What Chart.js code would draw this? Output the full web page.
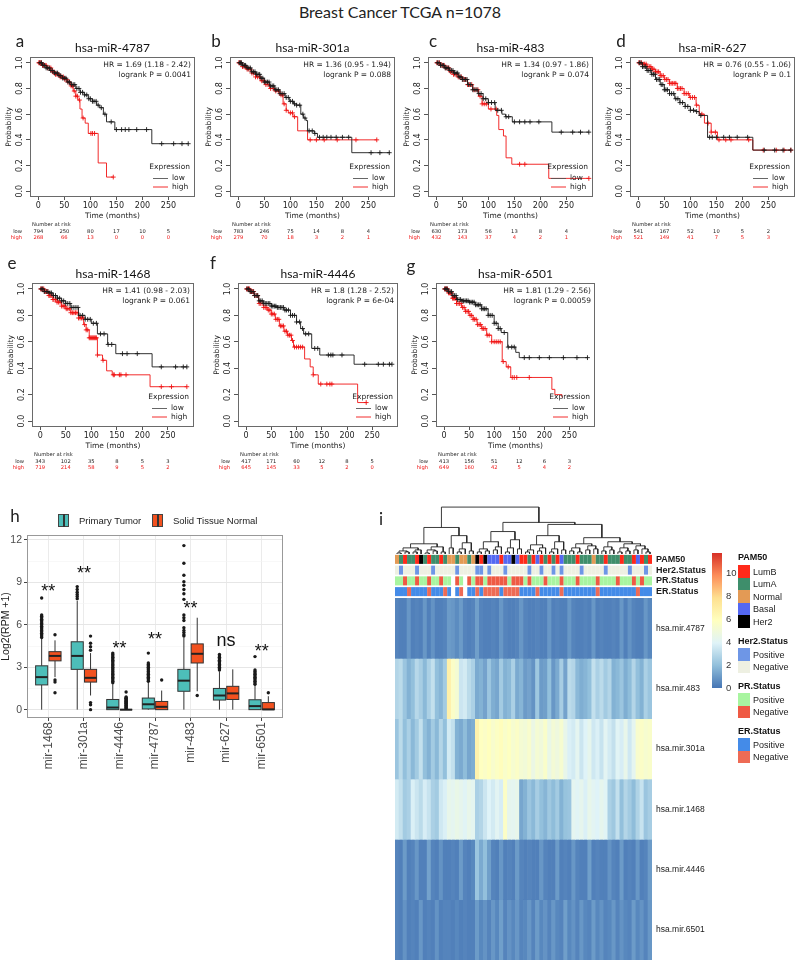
<!DOCTYPE html>
<html><head><meta charset="utf-8">
<script src="https://cdn.jsdelivr.net/npm/chart.js@4.4.0/dist/chart.umd.min.js"></script>
<style>
body{margin:0;background:#fff;width:800px;height:964px;position:relative;overflow:hidden;font-family:Lato,sans-serif;color:#222}
canvas{position:absolute}
.t{position:absolute;white-space:nowrap;line-height:1;transform:translate(0,-50%)}
.c{transform:translate(-50%,-50%)}
.sw{position:absolute;width:12px;height:12.5px}
</style></head><body>
<script>
// ---------------- KM data ----------------
const riskTimes = [0,50,100,150,200,250];
// a hsa-miR-4787
const a_low_t = [0,8,15,22,30,38,46,55,63,72,80,88,96,104,112,118,125,131,147,218,288];
const a_low_s = [1,0.98,0.96,0.94,0.92,0.9,0.88,0.85,0.83,0.8,0.77,0.75,0.72,0.7,0.67,0.65,0.6,0.54,0.48,0.37,0.37];
const a_high_t = [0,8,16,25,33,42,50,56,62,67,72,76,80,84,90,96,115,131,144];
const a_high_s = [1,0.98,0.96,0.93,0.91,0.89,0.87,0.85,0.82,0.78,0.74,0.71,0.64,0.57,0.53,0.45,0.22,0.11,0.11];
const a_low_c = [3,6,9,12,15,18,21,24,27,31,34,37,40,43,47,50,53,57,60,64,67,70,74,78,81,85,89,93,97,100,104,107,111,115,121,128,140,150,160,167,174,189,208,237,260,276,288];
const a_high_c = [1,2,4,6,8,10,13,15,18,21,24,27,30,33,36,39,42,45,48,51,54,57,60,63,66,69,72,75,79,86,101,104,108,144];
const a_risk_low = [794,250,80,17,10,5];
const a_risk_high = [268,66,13,0,0,0];
// b hsa-miR-301a
const b_low_t = [0,8,16,25,33,42,50,60,70,80,90,98,106,112,120,125,130,133,146,152,218,291];
const b_low_s = [1,0.98,0.96,0.93,0.91,0.88,0.85,0.82,0.79,0.76,0.73,0.7,0.68,0.67,0.6,0.57,0.55,0.47,0.45,0.42,0.3,0.3];
const b_high_t = [0,8,16,25,33,42,51,60,70,80,86,92,96,105,114,133,266];
const b_high_s = [1,0.97,0.95,0.92,0.89,0.86,0.83,0.8,0.78,0.75,0.68,0.63,0.61,0.58,0.47,0.4,0.4];
const b_low_c = [2,4,6,9,12,14,17,20,23,26,29,32,35,38,41,44,47,50,53,56,59,62,65,68,71,74,77,80,84,88,92,96,100,104,108,112,118,124,128,136,142,147,156,163,170,178,188,200,212,255,272,290];
const b_high_c = [1,3,5,8,11,14,17,20,23,26,29,33,37,41,45,49,53,57,62,67,72,77,82,85,88,92,100,104,108,138,150,165,190,226,266];
const b_risk_low = [783,246,75,14,8,4];
const b_risk_high = [279,70,18,3,2,1];
// c hsa-miR-483
const c_low_t = [0,8,16,25,33,42,50,60,70,80,90,100,113,126,133,146,222,293];
const c_low_s = [1,0.98,0.96,0.94,0.92,0.89,0.87,0.83,0.79,0.76,0.72,0.69,0.63,0.6,0.58,0.54,0.46,0.46];
const c_high_t = [0,8,16,25,33,42,50,60,70,81,88,100,116,120,129,134,145,216,293];
const c_high_s = [1,0.98,0.96,0.93,0.91,0.89,0.87,0.83,0.79,0.74,0.68,0.64,0.59,0.48,0.43,0.26,0.21,0.1,0.1];
const c_low_c = [2,5,8,11,14,17,20,23,26,29,32,35,38,41,44,47,50,53,56,59,62,66,70,74,78,82,86,90,95,100,106,112,118,125,134,139,150,160,170,180,197,240,262,277,293];
const c_high_c = [1,3,6,9,12,15,18,21,24,27,30,33,36,39,42,45,48,51,54,57,60,64,68,72,76,80,84,88,92,96,105,115,160,170,293];
const c_risk_low = [630,173,56,13,8,4];
const c_risk_high = [432,143,37,4,2,1];
// d hsa-miR-627
const d_low_t = [0,8,16,25,33,42,50,60,70,80,90,100,111,117,133,220,293];
const d_low_s = [1,0.97,0.94,0.91,0.87,0.83,0.79,0.76,0.72,0.69,0.66,0.63,0.62,0.59,0.42,0.32,0.32];
const d_high_t = [0,8,16,25,33,42,50,60,75,88,98,111,117,127,140,152,220,293];
const d_high_s = [1,0.99,0.97,0.95,0.93,0.9,0.87,0.84,0.8,0.76,0.73,0.67,0.6,0.53,0.46,0.4,0.32,0.32];
const d_low_c = [2,5,8,11,14,17,20,23,26,29,32,35,38,41,44,47,50,53,56,60,64,68,72,76,80,85,90,95,100,106,112,120,137,142,150,164,175,190,210,242,262,278,293];
const d_high_c = [1,3,6,9,12,15,18,21,24,27,30,33,36,39,42,45,48,51,54,57,60,63,66,69,72,75,78,81,84,88,92,96,100,104,108,112,122,134,140,148,155,168,178,212,240,265,280,293];
const d_risk_low = [541,167,52,10,5,2];
const d_risk_high = [521,149,41,7,5,3];
// e hsa-miR-1468
const e_low_t = [0,8,16,25,33,42,50,60,75,88,100,112,132,148,219,287];
const e_low_s = [1,0.98,0.97,0.95,0.93,0.91,0.89,0.86,0.8,0.77,0.74,0.66,0.58,0.51,0.41,0.41];
const e_high_t = [0,8,16,25,33,42,50,60,75,85,90,96,112,122,130,141,215,287];
const e_high_s = [1,0.98,0.95,0.92,0.9,0.87,0.85,0.82,0.78,0.73,0.69,0.63,0.5,0.46,0.38,0.35,0.26,0.26];
const e_low_c = [2,5,8,12,15,19,22,26,30,34,38,42,46,50,54,58,62,66,70,74,78,83,88,93,98,104,110,118,125,133,140,161,170,190,237,265,280,287];
const e_high_c = [1,3,5,7,9,11,13,15,17,19,21,23,25,27,30,33,36,39,42,45,48,51,54,57,60,63,66,69,72,75,78,81,84,87,90,93,96,98,100,102,104,106,108,110,112,123,143,145,155,158,168,237,257,287];
const e_risk_low = [343,102,35,8,5,3];
const e_risk_high = [719,214,58,9,5,2];
// f hsa-miR-4446
const f_low_t = [0,8,16,25,35,50,62,75,88,100,108,114,130,146,214,289];
const f_low_s = [1,0.98,0.95,0.91,0.89,0.87,0.86,0.84,0.8,0.75,0.7,0.66,0.55,0.5,0.43,0.43];
const f_high_t = [0,8,16,25,35,42,50,58,66,75,82,90,94,116,127,133,143,221,240];
const f_high_s = [1,0.98,0.95,0.89,0.86,0.84,0.81,0.77,0.72,0.68,0.65,0.61,0.56,0.47,0.41,0.35,0.28,0.14,0.14];
const f_low_c = [2,5,8,11,14,17,20,23,26,29,32,35,38,41,44,47,50,53,56,59,62,65,68,71,74,77,80,84,88,92,96,100,106,112,118,124,136,142,163,168,172,190,235,262,272,284,289];
const f_high_c = [1,3,5,7,9,11,13,15,17,20,23,26,29,32,35,38,41,44,47,50,53,56,59,62,65,68,71,74,77,80,83,86,89,92,96,100,104,108,112,133,148,160,166,170,238];
const f_risk_low = [417,171,60,12,8,5];
const f_risk_high = [645,145,33,5,2,0];
// g hsa-miR-6501
const g_low_t = [0,8,16,25,35,50,62,75,88,100,108,114,127,143,150,286];
const g_low_s = [1,0.98,0.95,0.92,0.91,0.9,0.88,0.85,0.8,0.74,0.7,0.67,0.56,0.52,0.48,0.48];
const g_high_t = [0,8,16,25,35,42,50,58,66,75,85,95,116,124,133,215,221,235];
const g_high_s = [1,0.97,0.93,0.89,0.86,0.83,0.8,0.77,0.73,0.7,0.65,0.6,0.45,0.41,0.33,0.24,0.2,0.18];
const g_low_c = [2,4,6,9,12,15,18,21,24,27,30,33,36,39,42,45,48,51,54,57,60,63,66,69,72,75,78,81,84,88,92,96,100,104,108,112,120,128,135,140,160,170,190,210,238,265,286];
const g_high_c = [1,3,5,7,9,11,13,15,17,19,21,23,25,28,31,34,37,40,43,46,49,52,55,58,61,64,67,70,73,76,79,82,86,90,95,100,104,108,112,118,128,136,140,145,170];
const g_risk_low = [413,156,51,12,6,3];
const g_risk_high = [649,160,42,5,4,2];

// ---------------- Boxplot data (panel h) ----------------
const groups = ['mir-1468','mir-301a','mir-4446','mir-4787','mir-483','mir-627','mir-6501'];
// [lower whisker, Q1, median, Q3, upper whisker]
const tumorStats = [[0,1.75,2.3,3.1,5.0],[0,2.85,3.8,4.8,7.7],[0,0,0.15,0.72,1.8],[0,0.05,0.38,0.82,1.95],[0,1.3,2.05,2.85,5.1],[0,0.68,1.0,1.5,2.7],[0,0,0.25,0.7,1.75]];
const normalStats = [[2.3,3.45,3.8,4.1,4.9],[1.0,1.95,2.25,2.85,4.0],[0,0,0,0,0],[0,0,0.2,0.58,1.35],[1.3,3.3,3.95,4.65,6.5],[0,0.72,1.15,1.65,2.85],[0,0,0.02,0.5,0.95]];
const tumorOutliers = [
 [5.1,5.2,5.3,5.4,5.5,5.6,5.7,5.8,5.9,6.0,6.1,6.2,6.3,6.4,6.5,6.6,6.7,7.9],
 [7.85,8.0,8.15,8.3,8.5,8.7],
 [1.9,2.0,2.1,2.2,2.3,2.4,2.5,2.6,2.7,2.8,2.9,3.0,3.1,3.2,3.3,3.4,3.5,3.6,3.7,3.8,3.9,4.0],
 [2.0,2.1,2.2,2.3,2.4,2.5,2.6,2.7,2.8,2.9,3.0,3.1,3.2,3.3,4.0],
 [5.2,5.3,5.45,5.6,5.8,6.3,6.5,6.7,7.8,8.2,8.5,8.8,9.05,9.5,10.35,11.6],
 [2.8,2.9,3.0,3.1,3.2,3.3,3.4,3.5,3.6,3.7,3.8,3.9],
 [1.8,1.9,2.0,2.1,2.2,2.3,2.4,2.5,2.6,2.7,2.8,3.75]
];
const normalOutliers = [[5.3,2.1,1.95,1.2],[4.2,4.45,4.7,5.2,0.5,0.35,0],[0.1,0.15,0.2,0.25,0.3,0.35,0.4,0.45,0.5,0.55,0.6,0.65,0.7,0.75,0.8,0.85,0.9,1.25],[2.1],[1.0],[],[1.2]];
const sigLabels = ['**','**','**','**','**','ns','**'];
const sigY = [8.66,9.93,4.66,5.29,7.46,4.87,4.47];

// ---------------- Heatmap data (panel i) ----------------
const hmRows = ['hsa.mir.4787','hsa.mir.483','hsa.mir.301a','hsa.mir.1468','hsa.mir.4446','hsa.mir.6501'];
const mir4787 = [0.4,0.3,0.3,0.9,0.3,0.4,0.3,0.9,0.3,0.8,0.3,0.3,0.4, 1.0,0.9,0.6,1.0,0.4,0.3,0.4, 1.1,0.4,0.3,0.3,0.4,0.3,0.9,0.4,0.3,0.3,0.4,0.9, 0.4,0.3,0.3,0.4,0.3,0.3,0.9,0.3,0.4,0.3,0.3, 0.9,0.4,0.3,0.3,0.4,0.3,0.9,0.3,0.4,0.3,0.3,0.4,0.3,0.9,0.3,0.8,0.4,0.3,0.3,0.9,0.5];
const mir483 = [2.8,3.0,2.2,1.6,2.0,2.9,2.5,1.8,2.6,3.2,2.0,1.7,2.4, 6.8,5.6,5.2,3.4,3.6,3.0,2.6, 1.4,1.6,1.2,2.2,1.5,1.3,2.4,1.6,1.8,2.6,1.4,1.7, 1.0,1.2,0.8,2.3,1.0,1.1,2.0,0.9,1.4,2.5,1.2, 3.0,2.8,1.8,1.5,1.7,2.0,3.2,2.6,3.0,2.4,2.8,1.6,1.8,2.2,1.5,1.9,2.8,2.0,1.6,2.6,2.2];
const mir301a = [2.2,3.0,2.0,2.6,1.8,2.4,3.2,2.0,1.6,2.4,1.8,2.8,2.0, 3.6,3.2,1.6,1.4,1.9,1.3,1.5, 6.6,5.8,5.6,5.9,5.4,5.7,6.0,5.5,5.8,5.3,5.6,5.2, 5.0,5.4,4.6,5.2,4.9,5.5,4.5,5.1,4.8,5.3,4.4, 3.8,3.6,4.2,3.4,3.9,4.3,3.5,3.8,3.3,4.1,3.6,3.2,4.0,3.7,4.4,3.5,4.2,5.4,5.6,5.3,5.5];
const mir1468 = [3.6,3.2,2.4,2.6,3.8,3.4,3.0,3.7,3.3,2.6,2.4,3.5,3.8, 4.4,4.2,4.5,4.3,4.0,4.4,4.2, 2.6,2.8,3.4,3.9,3.6,4.1,3.7,5.6,4.3,4.2,4.4,1.3, 1.6,2.2,1.8,2.5,2.0,1.7,2.3,1.9,2.4,1.6,2.1, 2.2,4.2,4.0,4.3,3.8,4.4,4.1,3.9,4.3,4.0,2.6,2.3,3.2,2.0,2.8,2.4,1.9,2.7,3.3,2.2,2.5];
const mir4446 = [0.4,0.3,1.0,0.3,0.4,0.9,0.3,0.3,1.2,0.4,0.3,0.8,0.3, 0.3,0.4,0.3,1.0,0.4,0.3,0.5, 2.2,1.4,2.0,1.1,0.4,0.3,0.9,0.3,0.4,0.3,1.0,0.4, 0.3,0.4,0.3,0.3,0.9,0.4,0.3,0.3,1.0,0.3,0.4, 0.3,0.9,0.4,0.3,0.3,1.1,0.3,0.4,0.3,0.3,0.8,0.4,0.3,1.0,0.3,0.4,0.3,0.9,0.3,0.4,1.0];
const mir6501 = [0.4,0.3,0.8,0.3,0.4,0.3,0.9,0.3,0.4,0.3,0.8,0.3,0.4, 0.4,0.3,0.5,0.3,0.4,0.3,0.3, 1.0,0.5,0.8,0.4,0.9,0.5,1.1,0.4,0.8,0.5,0.9,0.4, 0.5,0.9,0.4,1.0,0.5,0.8,0.4,0.9,0.5,0.4,1.1, 0.5,0.8,0.4,0.9,0.5,0.4,1.0,0.5,0.8,0.4,0.5,0.9,0.4,0.8,0.5,0.4,1.0,0.5,0.8,0.4,0.9];
const annRows = ['PAM50','Her2.Status','PR.Status','ER.Status'];
const pam50Codes = 'NABAABHABAABA'+'NNANNAN'+'HBHSSSBSSHSB'+'BABSBABABSA'+'AABAAANAABAAABAABSBAB';
const her2Codes  = 'NPNNNPNNNPNNN'+'NNPNNNN'+'PPNPNNNPNNNN'+'NPNNPNNPNPN'+'NNNPNNNNNPNNNNNPNNNPN';
const prCodes    = 'PPNPPNPPNPPNP'+'PWNPWNP'+'NNPNNNNNPNNN'+'PNPPPNPPPNP'+'PPNPPPPNPPPPNPPPNPNPP';
const erCodes    = 'PPPNPPPPNPPPN'+'PWPNWPP'+'NPNNNNPNNNNP'+'PPPNPPPPPNP'+'PPPPPPPNPPPPPPPPPNPPP';
// dendrogram: [mergeHeight, left, right], leaves are column indices
const dendroTree = [46,
  [26,
    [10,[6,[3,[1,0,1],[2,2,3]],[4,[2,4,5],6]],[7,[4,[1,7,8],[3,9,10]],[2,11,12]]],
    [18,[6,13,14],[11,[5,[2,15,16],17],[3,18,19]]]],
  [31,
    [22,[12,[5,[2,20,21],[3,22,23]],[7,[4,24,25],26]],[14,[6,[2,27,28],29],[5,30,31]]],
    [29,
      [18,[9,[4,[2,32,33],34],[6,[3,35,36],37]],[12,[5,[2,38,39],40],[4,41,42]]],
      [16,[10,[6,[3,43,44],[2,45,46]],[8,[4,47,48],[5,49,50]]],[12,[7,[3,51,52],[4,53,54]],[10,[6,[2,55,56],[3,57,58]],[8,[4,59,60],[5,61,[2,62,63]]]]]]]]];
const colorbarTicks = [0,2,4,6,8,10];

// ---------------- styles ----------------
const heatStops = ['#4575B4','#91BFDB','#E0F3F8','#FFFFBF','#FEE090','#FC8D59','#D73027'];
const heatMax = 11.74;
const pamColors = {B:'#FF2A1A', A:'#3E8E6B', N:'#E39A55', S:'#5468F2', H:'#000000'};
const her2Colors = {P:'#6E96E6', N:'#EEF0E2', W:'#FFFFFF'};
const prColors = {P:'#A8F5A0', N:'#EF5A44', W:'#FFFFFF'};
const erColors = {P:'#448BE8', N:'#EE6B55', W:'#FFFFFF'};
const TEAL = '#4DBEB9', ORANGE = '#F2511F';

Chart.defaults.font.family = '"DejaVu Sans"';
Chart.defaults.animation = false;

function mkCanvas(left, top, w, h){
  const c = document.createElement('canvas');
  c.width = w; c.height = h;
  c.style.left = left+'px'; c.style.top = top+'px';
  c.style.width = w+'px'; c.style.height = h+'px';
  document.body.appendChild(c); return c;
}
function text(str, x, y, css, center){
  const d = document.createElement('div');
  d.className = 't' + (center ? ' c' : '');
  d.textContent = str; d.style.left = x+'px'; d.style.top = y+'px';
  d.style.cssText += css || '';
  document.body.appendChild(d); return d;
}
function swatch(x, y, col, h){
  const d = document.createElement('div'); d.className='sw';
  d.style.left=x+'px'; d.style.top=y+'px'; d.style.background=col;
  if (h) d.style.height=h+'px';
  document.body.appendChild(d); return d;
}
function survAt(T, S, t){ let v = S[0]; for (let i=0;i<T.length;i++){ if (T[i] <= t) v = S[i]; } return v; }

// ---------------- KM panels ----------------
const kmPanels = [
 {title:'hsa-miR-4787', hr:'HR = 1.69 (1.18 - 2.42)', p:'logrank P = 0.0041', lt:a_low_t, ls:a_low_s, ht:a_high_t, hs:a_high_s, lc:a_low_c, hc:a_high_c, rl:a_risk_low, rh:a_risk_high, box:[30,57,195,197]},
 {title:'hsa-miR-301a', hr:'HR = 1.36 (0.95 - 1.94)', p:'logrank P = 0.088', lt:b_low_t, ls:b_low_s, ht:b_high_t, hs:b_high_s, lc:b_low_c, hc:b_high_c, rl:b_risk_low, rh:b_risk_high, box:[230,57,395,197]},
 {title:'hsa-miR-483', hr:'HR = 1.34 (0.97 - 1.86)', p:'logrank P = 0.074', lt:c_low_t, ls:c_low_s, ht:c_high_t, hs:c_high_s, lc:c_low_c, hc:c_high_c, rl:c_risk_low, rh:c_risk_high, box:[428,57,593,197]},
 {title:'hsa-miR-627', hr:'HR = 0.76 (0.55 - 1.06)', p:'logrank P = 0.1', lt:d_low_t, ls:d_low_s, ht:d_high_t, hs:d_high_s, lc:d_low_c, hc:d_high_c, rl:d_risk_low, rh:d_risk_high, box:[630,57,795,197]},
 {title:'hsa-miR-1468', hr:'HR = 1.41 (0.98 - 2.03)', p:'logrank P = 0.061', lt:e_low_t, ls:e_low_s, ht:e_high_t, hs:e_high_s, lc:e_low_c, hc:e_high_c, rl:e_risk_low, rh:e_risk_high, box:[32,283,194,427]},
 {title:'hsa-miR-4446', hr:'HR = 1.8 (1.28 - 2.52)', p:'logrank P = 6e-04', lt:f_low_t, ls:f_low_s, ht:f_high_t, hs:f_high_s, lc:f_low_c, hc:f_high_c, rl:f_risk_low, rh:f_risk_high, box:[238,283,398,427]},
 {title:'hsa-miR-6501', hr:'HR = 1.81 (1.29 - 2.56)', p:'logrank P = 0.00059', lt:g_low_t, ls:g_low_s, ht:g_high_t, hs:g_high_s, lc:g_low_c, hc:g_high_c, rl:g_risk_low, rh:g_risk_high, box:[436,283,595,427]}
];
const LOWC = '#1a1a1a', HIGHC = '#F01414';

function drawKM(chart, sp){
  const {ctx, chartArea:a, scales:{x, y}} = chart;
  ctx.save();
  ctx.strokeStyle = '#6a6a6a'; ctx.lineWidth = 1;
  ctx.strokeRect(a.left+0.5, a.top+0.5, a.right-a.left-1, a.bottom-a.top-1);
  ctx.fillStyle = '#222'; ctx.textAlign='center'; ctx.textBaseline='middle';
  ctx.font = '8px "DejaVu Sans"';
  y.ticks.forEach(t => {
    const py = y.getPixelForValue(t.value);
    ctx.save(); ctx.translate(a.left-10, py); ctx.rotate(-Math.PI/2); ctx.fillText(t.value.toFixed(1),0,0); ctx.restore();
  });
  ctx.font = '7.5px "DejaVu Sans"';
  ctx.save(); ctx.translate(a.left-21, (a.top+a.bottom)/2); ctx.rotate(-Math.PI/2); ctx.fillText('Probability',0,0); ctx.restore();
  ctx.fillText('Time (months)', (a.left+a.right)/2, a.bottom+19);
  ctx.font = '12px Lato'; ctx.fillStyle = '#111';
  ctx.fillText(sp.title, (a.left+a.right)/2, a.top-9);
  ctx.font = '7.5px "DejaVu Sans"'; ctx.fillStyle = '#222'; ctx.textAlign = 'right';
  ctx.fillText(sp.hr, a.right-4, a.top+8);
  ctx.fillText(sp.p, a.right-4, a.top+18);
  ctx.fillText('Expression', a.right-5, a.bottom-30);
  ctx.lineWidth = 0.9;
  ctx.strokeStyle = '#555'; ctx.beginPath(); ctx.moveTo(a.right-42, a.bottom-18.5); ctx.lineTo(a.right-27, a.bottom-18.5); ctx.stroke();
  ctx.strokeStyle = HIGHC; ctx.beginPath(); ctx.moveTo(a.right-42, a.bottom-10); ctx.lineTo(a.right-27, a.bottom-10); ctx.stroke();
  ctx.textAlign = 'left';
  ctx.fillText('low', a.right-23, a.bottom-18.5);
  ctx.fillText('high', a.right-23, a.bottom-10);
  ctx.font = '5.2px "DejaVu Sans"';
  ctx.fillText('Number at risk', a.left+2, a.bottom+28);
  ctx.textAlign = 'right';
  ctx.fillText('low', a.left-8, a.bottom+34.5);
  ctx.fillStyle = HIGHC; ctx.fillText('high', a.left-8, a.bottom+41);
  ctx.textAlign = 'center';
  riskTimes.forEach((t,i) => {
    const px = x.getPixelForValue(t);
    ctx.fillStyle = '#222'; ctx.fillText(String(sp.rl[i]), px, a.bottom+34.5);
    ctx.fillStyle = HIGHC; ctx.fillText(String(sp.rh[i]), px, a.bottom+41);
  });
  ctx.restore();
}

kmPanels.forEach(sp => {
  const [L,T,R,B] = sp.box;
  const W = R-L+35, H = 220;
  const cv = mkCanvas(L-30, T-27, W, H);
  const xh = H - 27 - (B-T);
  const pts = (ts, ss) => ts.map((t,i)=>({x:t, y:ss[i]}));
  const cens = (cs, ts, ss) => cs.map(t=>({x:t, y:survAt(ts, ss, t)}));
  new Chart(cv, {
    type:'scatter',
    data:{datasets:[
      {data:pts(sp.lt, sp.ls), showLine:true, stepped:'before', borderColor:LOWC, borderWidth:0.9, pointRadius:0},
      {data:cens(sp.lc, sp.lt, sp.ls), pointStyle:'cross', pointRadius:2.4, borderColor:LOWC, borderWidth:0.9, showLine:false},
      {data:pts(sp.ht, sp.hs), showLine:true, stepped:'before', borderColor:HIGHC, borderWidth:0.9, pointRadius:0},
      {data:cens(sp.hc, sp.ht, sp.hs), pointStyle:'cross', pointRadius:2.4, borderColor:HIGHC, borderWidth:0.9, showLine:false}
    ]},
    options:{
      responsive:false, animation:false, events:[],
      layout:{padding:{top:27, right:5, left:0, bottom:0}},
      plugins:{legend:{display:false}, tooltip:{enabled:false}},
      scales:{
        x:{type:'linear', min:-16, max:301,
           afterBuildTicks(s){ s.ticks = riskTimes.map(v=>({value:v})); },
           ticks:{font:{size:8, family:'"DejaVu Sans"'}, color:'#222', padding:1, maxRotation:0},
           grid:{drawOnChartArea:false, tickLength:3, color:'#555'},
           border:{display:false},
           afterFit(s){ s.height = xh; }},
        y:{type:'linear', min:-0.045, max:1.045,
           afterBuildTicks(s){ s.ticks = [0,0.2,0.4,0.6,0.8,1.0].map(v=>({value:v})); },
           ticks:{display:false},
           grid:{drawOnChartArea:false, tickLength:4, color:'#555'},
           border:{display:false},
           afterFit(s){ s.width = 30; }}
      }
    },
    plugins:[{id:'kmDecor', afterDraw(chart){ drawKM(chart, sp); }}]
  });
});

// ---------------- Boxplot (h) ----------------
(function(){
  const cv = mkCanvas(0, 500, 290, 300);
  const boxPlugin = {
    id:'boxes',
    beforeDatasetsDraw(chart){
      const {ctx, scales:{x, y}} = chart;
      const unit = x.getPixelForValue(1) - x.getPixelForValue(0);
      const bw = 0.34*unit;
      ctx.save();
      [[tumorStats,-0.1875,TEAL],[normalStats,0.1875,ORANGE]].forEach(([stats,off,col]) => {
        stats.forEach((st,i) => {
          const cx = x.getPixelForValue(i+1+off);
          const [lo,q1,md,q3,hi] = st.map(v=>y.getPixelForValue(v));
          ctx.strokeStyle = '#333'; ctx.lineWidth = 1;
          ctx.beginPath(); ctx.moveTo(cx,lo); ctx.lineTo(cx,q1); ctx.moveTo(cx,q3); ctx.lineTo(cx,hi); ctx.stroke();
          ctx.fillStyle = col; ctx.fillRect(cx-bw/2, q3, bw, q1-q3);
          ctx.strokeRect(cx-bw/2, q3, bw, q1-q3);
          ctx.strokeStyle = '#222'; ctx.lineWidth = 2;
          ctx.beginPath(); ctx.moveTo(cx-bw/2, md); ctx.lineTo(cx+bw/2, md); ctx.stroke();
        });
      });
      ctx.restore();
    },
    afterDraw(chart){
      const {ctx, chartArea:a, scales:{x, y}} = chart;
      ctx.save();
      ctx.strokeStyle = '#999'; ctx.lineWidth = 1;
      ctx.strokeRect(a.left+0.5, a.top+0.5, a.right-a.left-1, a.bottom-a.top-1);
      ctx.fillStyle = '#111'; ctx.textAlign = 'center'; ctx.textBaseline = 'alphabetic';
      sigLabels.forEach((lab,i) => {
        const px = x.getPixelForValue(i+1), py = y.getPixelForValue(sigY[i]);
        ctx.font = '18px "Liberation Sans"';
        const off = lab === 'ns' ? 0.27*18 : 0.57*18;
        ctx.fillText(lab, px, py+off);
      });
      ctx.restore();
    }
  };
  new Chart(cv, {
    type:'scatter',
    data:{datasets:[
      {label:'Primary Tumor', data: tumorOutliers.flatMap((arr,i)=>arr.map(v=>({x:i+1-0.1875, y:v}))), pointRadius:1.7, backgroundColor:'#1a1a1a', borderWidth:0},
      {label:'Solid Tissue Normal', data: normalOutliers.flatMap((arr,i)=>arr.map(v=>({x:i+1+0.1875, y:v}))), pointRadius:1.7, backgroundColor:'#1a1a1a', borderWidth:0}
    ]},
    options:{
      responsive:false, animation:false, events:[],
      layout:{padding:{top:35, right:7, left:0, bottom:0}},
      plugins:{legend:{display:false}, tooltip:{enabled:false}},
      scales:{
        x:{type:'linear', min:0.4, max:7.6,
           afterBuildTicks(s){ s.ticks = groups.map((g,i)=>({value:i+1})); },
           ticks:{callback:(v)=>groups[Math.round(v)-1], minRotation:90, maxRotation:90, autoSkip:false, font:{family:'"Liberation Sans"', size:12}, color:'#4D4D4D', padding:1},
           grid:{color:'#EBEBEB', lineWidth:1, tickLength:3, tickColor:'#444'},
           border:{display:false},
           afterFit(s){ s.height = 82; }},
        y:{type:'linear', min:-0.59, max:12.35,
           afterBuildTicks(s){ s.ticks = [0,1.5,3,4.5,6,7.5,9,10.5,12].map(v=>({value:v})); },
           ticks:{callback:(v)=> (v%3===0 ? String(v) : ''), font:{family:'"Liberation Sans"', size:10.5}, color:'#4D4D4D', padding:2},
           grid:{color:(c)=> (c.tick && c.tick.value%3===0 ? '#E6E6E6' : '#F4F4F4'), lineWidth:(c)=> (c.tick && c.tick.value%3===0 ? 1 : 0.6), tickLength:3, tickColor:(c)=> (c.tick && c.tick.value%3===0 ? '#444' : 'rgba(0,0,0,0)')},
           border:{display:false},
           title:{display:true, text:'Log2(RPM +1)', font:{family:'"Liberation Sans"', size:10.5}, color:'#222', padding:{top:0, bottom:1}},
           afterFit(s){ s.width = 27; }}
      }
    },
    plugins:[boxPlugin]
  });
})();

// ---------------- Heatmap (i) ----------------
function hexToRgb(h){ const n = parseInt(h.slice(1),16); return [(n>>16)&255,(n>>8)&255,n&255]; }
function heatColor(v){
  const t = Math.max(0, Math.min(1, v/heatMax)) * (heatStops.length-1);
  const i = Math.min(heatStops.length-2, Math.floor(t)), f = t - i;
  const a = hexToRgb(heatStops[i]), b = hexToRgb(heatStops[i+1]);
  return 'rgb(' + a.map((c,k)=>Math.round(c+(b[k]-c)*f)).join(',') + ')';
}
const NCOL = mir4787.length;
// dendrogram
(function(){
  const segs = [];
  function walk(node){
    if (typeof node === 'number') return {x:node, h:0};
    const [h,l,r] = node;
    const A = walk(l), Bn = walk(r);
    segs.push({x:A.x,y:A.h},{x:A.x,y:h},{x:Bn.x,y:h},{x:Bn.x,y:Bn.h},{x:Bn.x,y:null});
    return {x:(A.x+Bn.x)/2, h:h};
  }
  walk(dendroTree);
  const cv = mkCanvas(395, 503, 257, 51);
  new Chart(cv, {
    type:'scatter',
    data:{datasets:[{data:segs, showLine:true, spanGaps:false, borderColor:'#262626', borderWidth:0.9, pointRadius:0, clip:false}]},
    options:{responsive:false, animation:false, events:[], layout:{padding:0},
      plugins:{legend:{display:false}, tooltip:{enabled:false}},
      scales:{x:{type:'linear', min:-0.5, max:NCOL-0.5, display:false}, y:{type:'linear', min:0, max:50, display:false}}}
  });
})();

function stripeChart(left, top, w, h, rows, colorRows, catPct, fontSpec){
  const cv = mkCanvas(left, top, w, h);
  new Chart(cv, {
    type:'bar',
    data:{labels:rows, datasets: colorRows.map((cols,r)=>({
      data: cols.map((c,ci)=>({x:[ci-0.5, ci+0.5], y:rows[r]})),
      backgroundColor: cols, borderWidth:0, grouped:false, barPercentage:1, categoryPercentage:catPct
    }))},
    options:{indexAxis:'y', responsive:false, animation:false, events:[],
      layout:{padding:0},
      plugins:{legend:{display:false}, tooltip:{enabled:false}},
      scales:{
        x:{type:'linear', min:-0.5, max:NCOL-0.5, display:false},
        y:{type:'category', position:'right', grid:{display:false, drawTicks:false}, border:{display:false},
           ticks:{font:fontSpec, color:'#1a1a1a', padding:4, autoSkip:false},
           afterFit(s){ s.width = w - 257; s.paddingTop = 0; s.paddingBottom = 0; }}
      }}
  });
}
// annotation rows
stripeChart(395, 554, 332, 43, annRows, [
  pam50Codes.split('').map(k=>pamColors[k]),
  her2Codes.split('').map(k=>her2Colors[k]),
  prCodes.split('').map(k=>prColors[k]),
  erCodes.split('').map(k=>erColors[k])
], 0.84, {family:'"Liberation Sans"', size:9, weight:'bold'});
// expression heatmap
stripeChart(395, 598, 332, 362, hmRows, [mir4787, mir483, mir301a, mir1468, mir4446, mir6501].map(vals=>vals.map(heatColor)), 1, {family:'"Liberation Sans"', size:8.5});

// colour bar
(function(){
  const cv = mkCanvas(712, 548, 45, 145);
  new Chart(cv, {
    type:'bar', data:{labels:[''], datasets:[]},
    options:{responsive:false, animation:false, events:[],
      layout:{padding:{top:5, bottom:5, left:0, right:0}},
      plugins:{legend:{display:false}, tooltip:{enabled:false}},
      scales:{x:{display:false},
        y:{type:'linear', position:'right', min:0, max:heatMax,
           afterBuildTicks(s){ s.ticks = colorbarTicks.map(v=>({value:v})); },
           ticks:{font:{family:'"Liberation Sans"', size:9.5}, color:'#333', padding:4},
           grid:{display:false, drawTicks:false}, border:{display:false},
           afterFit(s){ s.width = 35; s.paddingTop = 0; s.paddingBottom = 0; }}}},
    plugins:[{id:'cbar', beforeDraw(chart){
      const {ctx, chartArea:a, scales:{y}} = chart;
      const y0 = y.getPixelForValue(0), y1 = y.getPixelForValue(heatMax);
      const g = ctx.createLinearGradient(0, y0, 0, y1);
      heatStops.forEach((c,i)=>g.addColorStop(i/(heatStops.length-1), c));
      ctx.save(); ctx.fillStyle = g; ctx.fillRect(a.left, y1, a.right-a.left, y0-y1); ctx.restore();
    }}]
  });
})();

// ---------------- HTML text ----------------
text('Breast Cancer TCGA n=1078', 400, 12, 'font-size:16px;font-family:Lato', true);
[['a',20,40],['b',216,40],['c',433,40],['d',621,40],['e',12,262],['f',213,262],['g',411,265],['h',15,515],['i',381,518]].forEach(([l,x,y]) => text(l, x, y, 'font-size:17px;font-family:Lato', true));
// h legend
[[58,TEAL,'Primary Tumor',79],[152,ORANGE,'Solid Tissue Normal',173]].forEach(([x,col,lab,tx]) => {
  const d = swatch(x, 514, col, 13); d.style.width='11px'; d.style.boxSizing='border-box'; d.style.border='1px solid #444';
  const ln = document.createElement('div'); ln.style.cssText='position:absolute;left:4px;top:-1px;width:1.5px;height:13px;background:#333';
  d.appendChild(ln);
  text(lab, tx, 521, 'font-size:9.5px;font-family:"Liberation Sans";color:#222');
});
// heatmap legend
const LF = 'font-family:"Liberation Sans";font-size:9px;color:#222';
const LB = 'font-family:"Liberation Sans";font-size:9px;font-weight:bold;color:#111';
text('PAM50', 738, 557, LB);
[['LumB','B',565],['LumA','A',577.5],['Normal','N',590],['Basal','S',602.5],['Her2','H',615]].forEach(([lab,k,y]) => { swatch(738, y, pamColors[k]); text(lab, 753, y+6.5, LF); });
text('Her2.Status', 738, 641, LB);
[['Positive','P',648],['Negative','N',660.5]].forEach(([lab,k,y]) => { swatch(738, y, her2Colors[k]); text(lab, 753, y+6.5, LF); });
text('PR.Status', 738, 686, LB);
[['Positive','P',693],['Negative','N',705.5]].forEach(([lab,k,y]) => { swatch(738, y, prColors[k]); text(lab, 753, y+6.5, LF); });
text('ER.Status', 738, 731, LB);
[['Positive','P',738],['Negative','N',750.5]].forEach(([lab,k,y]) => { swatch(738, y, erColors[k]); text(lab, 753, y+6.5, LF); });
</script>
</body></html>
